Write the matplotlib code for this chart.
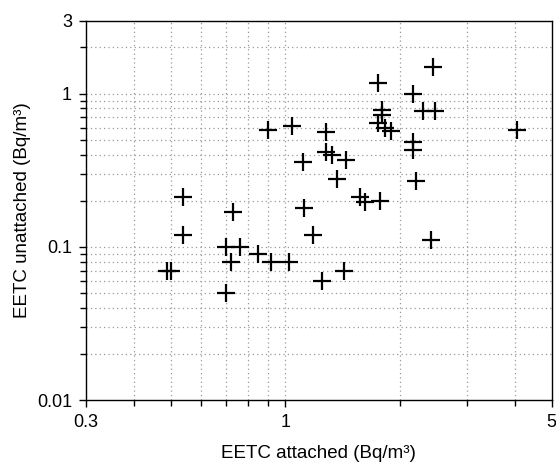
import numpy as np
import matplotlib
matplotlib.use('Agg')
import matplotlib.pyplot as plt
from matplotlib.ticker import FixedLocator, NullFormatter, FixedFormatter

plt.rcParams['font.family'] = ['Liberation Sans', 'DejaVu Sans']

# EETC attached / unattached (Bq/m3)
attached = [0.90, 1.04, 1.11, 0.54, 0.73, 1.12, 2.44, 1.75, 2.17, 1.79, 1.79,
            2.30, 2.47, 1.28, 1.75, 1.83, 1.90, 2.17, 2.17, 4.05, 1.28, 1.33,
            1.44, 1.37, 2.21, 1.57, 1.62, 1.77, 1.18, 2.42, 1.02, 1.25, 1.43,
            0.54, 0.49, 0.50, 0.70, 0.76, 0.72, 0.85, 0.92, 0.70]
unattached = [0.58, 0.61, 0.36, 0.21, 0.17, 0.18, 1.50, 1.17, 1.00, 0.78, 0.73,
              0.77, 0.77, 0.56, 0.64, 0.60, 0.57, 0.48, 0.43, 0.58, 0.415, 0.40,
              0.37, 0.275, 0.27, 0.21, 0.195, 0.20, 0.12, 0.11, 0.08, 0.06, 0.07,
              0.12, 0.07, 0.07, 0.10, 0.10, 0.08, 0.09, 0.08, 0.05]

xmajor = [0.3, 1, 5]
xmajor_lab = ['0.3', '1', '5']
xminor = [0.4, 0.5, 0.6, 0.7, 0.8, 0.9, 2, 3, 4]
ymajor = [0.01, 0.1, 1, 3]
ymajor_lab = ['0.01', '0.1', '1', '3']
yminor = [0.02, 0.03, 0.04, 0.05, 0.06, 0.07, 0.08, 0.09,
          0.2, 0.3, 0.4, 0.5, 0.6, 0.7, 0.8, 0.9, 2]

fig = plt.figure(figsize=(5.56, 4.66), dpi=100)
ax = fig.add_axes([0.1547, 0.1416, 0.8373, 0.8144])
ax.set_xscale('log')
ax.set_yscale('log')
ax.set_xlim(0.3, 5)
ax.set_ylim(0.01, 3)

ax.xaxis.set_major_locator(FixedLocator(xmajor))
ax.xaxis.set_major_formatter(FixedFormatter(xmajor_lab))
ax.xaxis.set_minor_locator(FixedLocator(xminor))
ax.xaxis.set_minor_formatter(NullFormatter())
ax.yaxis.set_major_locator(FixedLocator(ymajor))
ax.yaxis.set_major_formatter(FixedFormatter(ymajor_lab))
ax.yaxis.set_minor_locator(FixedLocator(yminor))
ax.yaxis.set_minor_formatter(NullFormatter())

# grid on the inner lines only
for v in xminor + [1]:
    ax.axvline(v, color='#999999', ls=(0, (1, 2.5)), lw=0.9, zorder=0)
for v in yminor + [0.1, 1]:
    ax.axhline(v, color='#999999', ls=(0, (1, 2.5)), lw=0.9, zorder=0)

ax.plot(attached, unattached, ls='none', marker='+', color='black',
        markersize=13, markeredgewidth=1.6, zorder=3)

ax.tick_params(which='major', direction='out', length=5, width=1.0,
               labelsize=13, top=False, right=False)
ax.tick_params(axis='x', which='major', pad=5)
ax.tick_params(axis='y', which='major', pad=5)
ax.tick_params(which='minor', direction='out', length=4, width=1.0,
               top=False, right=False)
for s in ax.spines.values():
    s.set_linewidth(1.0)

ax.set_xlabel('EETC attached (Bq/m³)', fontsize=13.5, labelpad=10)
ax.set_ylabel('EETC unattached (Bq/m³)', fontsize=13.5, labelpad=4)

fig.savefig('out.png', dpi=100)
